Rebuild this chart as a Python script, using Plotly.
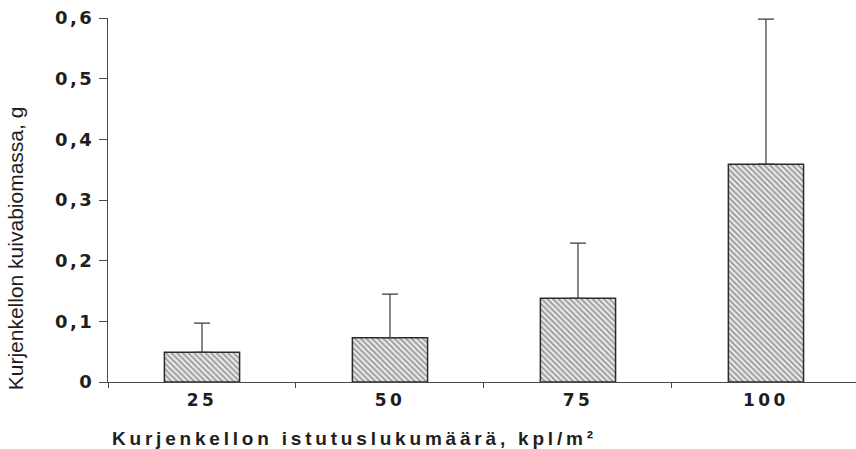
import plotly.graph_objects as go

# Planting density (plants per m²) and mean dry biomass with standard deviation
densities = ["25", "50", "75", "100"]
biomass = [0.049, 0.073, 0.138, 0.359]
biomass_sd = [0.048, 0.072, 0.091, 0.239]

y_tick_vals = [0, 0.1, 0.2, 0.3, 0.4, 0.5, 0.6]
y_tick_text = ["0", "0,1", "0,2", "0,3", "0,4", "0,5", "0,6"]

x_title = "Kurjenkellon istutuslukumäärä, kpl/m²"
y_title = "Kurjenkellon kuivabiomassa, g"

axis_col = "#4a4a4a"
text_col = "#1e1e1e"


def spaced(s, px):
    """Wrap a label in a span with extra letter spacing."""
    return f'<span style="letter-spacing:{px}px">{s}</span>'


fig = go.Figure(
    go.Bar(
        x=densities,
        y=biomass,
        width=0.40,
        marker=dict(
            color="#f2f2f2",
            line=dict(color="#2a2a2a", width=1.5),
            pattern=dict(shape="\\", fgcolor="#444444", bgcolor="#eaeaea",
                         size=4, solidity=0.45),
        ),
        error_y=dict(
            type="data", array=biomass_sd, symmetric=False,
            arrayminus=[0] * len(biomass_sd),
            color="#3a3a3a", thickness=1.2, width=8,
        ),
    )
)

fig.update_layout(
    width=856, height=449,
    margin=dict(l=108, r=0, t=18, b=67),
    plot_bgcolor="white", paper_bgcolor="white",
    showlegend=False,
    font=dict(family="Liberation Sans", color=text_col),
)

fig.update_xaxes(
    range=[-0.5, 3.479],
    tickvals=densities, ticktext=[spaced(d, 3.5) for d in densities],
    showline=True, linecolor=axis_col, linewidth=1,
    ticks="outside", tickson="boundaries", ticklen=5, tickcolor=axis_col,
    tickfont=dict(family="DejaVu Sans", size=17, weight="bold", color=text_col),
    ticklabelstandoff=3,
    showgrid=False, zeroline=False,
)

fig.update_yaxes(
    range=[0, 0.6],
    tickvals=y_tick_vals, ticktext=[spaced(t, 2.5) for t in y_tick_text],
    showline=True, linecolor=axis_col, linewidth=1,
    ticks="outside", ticklen=8, tickcolor=axis_col,
    tickfont=dict(family="DejaVu Sans", size=18, weight="bold", color=text_col),
    ticklabelstandoff=1,
    showgrid=False, zeroline=False,
)

fig.add_annotation(
    text=spaced(x_title, 3.8), xref="paper", yref="paper",
    x=0.003, y=-0.154, xanchor="left", yanchor="middle",
    showarrow=False,
    font=dict(family="Liberation Sans", size=19, weight="bold", color=text_col),
)

fig.add_annotation(
    text=y_title, xref="paper", yref="paper",
    x=-0.124, y=0.368, xanchor="center", yanchor="middle",
    textangle=-90, showarrow=False,
    font=dict(family="Liberation Sans", size=21, color=text_col),
)

fig.write_html("out.html")
